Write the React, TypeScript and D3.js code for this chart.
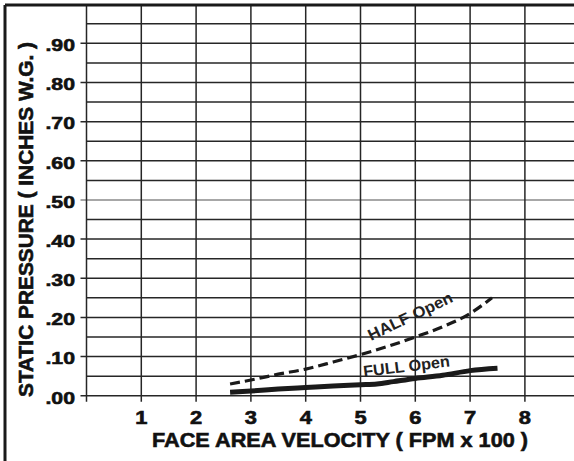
import React from "react";
import * as d3 from "d3";

const xTicks = [1, 2, 3, 4, 5, 6, 7, 8];
const yMajor = [0, 0.1, 0.2, 0.3, 0.4, 0.5, 0.6, 0.7, 0.8, 0.9];
const yMinor = [0.05, 0.15, 0.25, 0.35, 0.45, 0.55, 0.65, 0.75, 0.85, 0.95];
const yLabels = [".00", ".10", ".20", ".30", ".40", ".50", ".60", ".70", ".80", ".90"];

const halfX = [2.62, 3.0, 3.5, 4.0, 4.5, 5.0, 5.5, 6.0, 6.5, 7.0, 7.4];
const halfY = [0.03, 0.04, 0.055, 0.068, 0.086, 0.105, 0.126, 0.15, 0.176, 0.21, 0.25];
const fullX = [2.62, 3.0, 3.5, 4.0, 4.5, 5.0, 5.3, 5.6, 6.0, 6.5, 7.0, 7.5];
const fullY = [0.009, 0.012, 0.017, 0.021, 0.025, 0.028, 0.03, 0.036, 0.044, 0.052, 0.064, 0.07];

const W = 574;
const H = 461;
const FONT = "'Liberation Sans', Arial, sans-serif";
const INK = "#111";

export default function App() {
  const x = d3.scaleLinear().domain([0, 9]).range([86.5, 86.5 + 9 * 54.8]);
  const y = d3.scaleLinear().domain([0, 1]).range([395.7, 4.2]);
  const line = d3
    .line<[number, number]>()
    .x((d) => x(d[0]))
    .y((d) => y(d[1]))
    .curve(d3.curveMonotoneX);
  const half = halfX.map((v, i) => [v, halfY[i]] as [number, number]);
  const full = fullX.map((v, i) => [v, fullY[i]] as [number, number]);
  const gridColor = "#262626";
  const heavy = { stroke: INK, strokeWidth: 0.6 };

  return (
    <svg
      width={W}
      height={H}
      style={{ position: "absolute", left: 0, top: 0, background: "#fff" }}
    >
      <rect x={0} y={0} width={W} height={H} fill="#fff" />
      {yMinor.map((v) => (
        <line key={"mi" + v} x1={x(0)} x2={W} y1={y(v)} y2={y(v)} stroke={gridColor} strokeWidth={1.5} />
      ))}
      {yMajor.map((v) => (
        <line key={"ma" + v} x1={x(0) - 6} x2={W} y1={y(v)} y2={y(v)} stroke={v === 0.5 ? "#8a8a8a" : gridColor} strokeWidth={1.5} />
      ))}
      {[0, ...xTicks].map((v) => (
        <line key={"v" + v} x1={x(v)} x2={x(v)} y1={y(1)} y2={y(0) + 6} stroke={gridColor} strokeWidth={1.5} />
      ))}
      <line x1={5} x2={W} y1={5} y2={5} stroke="#1a1a1a" strokeWidth={3} />
      <line x1={5} x2={5} y1={5} y2={H} stroke="#1a1a1a" strokeWidth={3} />

      {yMajor.map((v, i) => (
        <text
          key={"yl" + v}
          transform={`translate(75, ${y(v) + 7.8}) scale(1.25,1)`}
          textAnchor="end"
          fontFamily={FONT}
          fontWeight="bold"
          fontSize={17}
          fill={INK}
          {...heavy}
        >
          {yLabels[i]}
        </text>
      ))}
      {xTicks.map((v) => (
        <text
          key={"xl" + v}
          transform={`translate(${x(v)}, 424) scale(1.25,1)`}
          textAnchor="middle"
          fontFamily={FONT}
          fontWeight="bold"
          fontSize={17.5}
          fill={INK}
          {...heavy}
        >
          {v}
        </text>
      ))}
      <text
        x={152}
        y={447}
        textLength={376}
        lengthAdjust="spacingAndGlyphs"
        fontFamily={FONT}
        fontWeight="bold"
        fontSize={20.5}
        fill={INK}
        {...heavy}
      >
        FACE AREA VELOCITY ( FPM x 100 )
      </text>
      <text
        transform={`translate(33, 397) rotate(-90)`}
        textLength={355}
        lengthAdjust="spacingAndGlyphs"
        fontFamily={FONT}
        fontWeight="bold"
        fontSize={21}
        fill={INK}
        {...heavy}
      >
        STATIC PRESSURE ( INCHES W.G. )
      </text>

      <path d={line(half) || ""} fill="none" stroke="#1a1a1a" strokeWidth={3.2} strokeDasharray="10 5" />
      <path d={line(full) || ""} fill="none" stroke="#1a1a1a" strokeWidth={5} strokeLinecap="butt" />

      <text
        transform={`translate(371, 341) rotate(-25.5)`}
        textLength={92}
        lengthAdjust="spacingAndGlyphs"
        fontFamily={FONT}
        fontWeight="bold"
        fontSize={16}
        fill="#222"
      >
        HALF Open
      </text>
      <text
        transform={`translate(364, 377) rotate(-7)`}
        textLength={87}
        lengthAdjust="spacingAndGlyphs"
        fontFamily={FONT}
        fontWeight="bold"
        fontSize={16}
        fill="#222"
      >
        FULL Open
      </text>
    </svg>
  );
}
